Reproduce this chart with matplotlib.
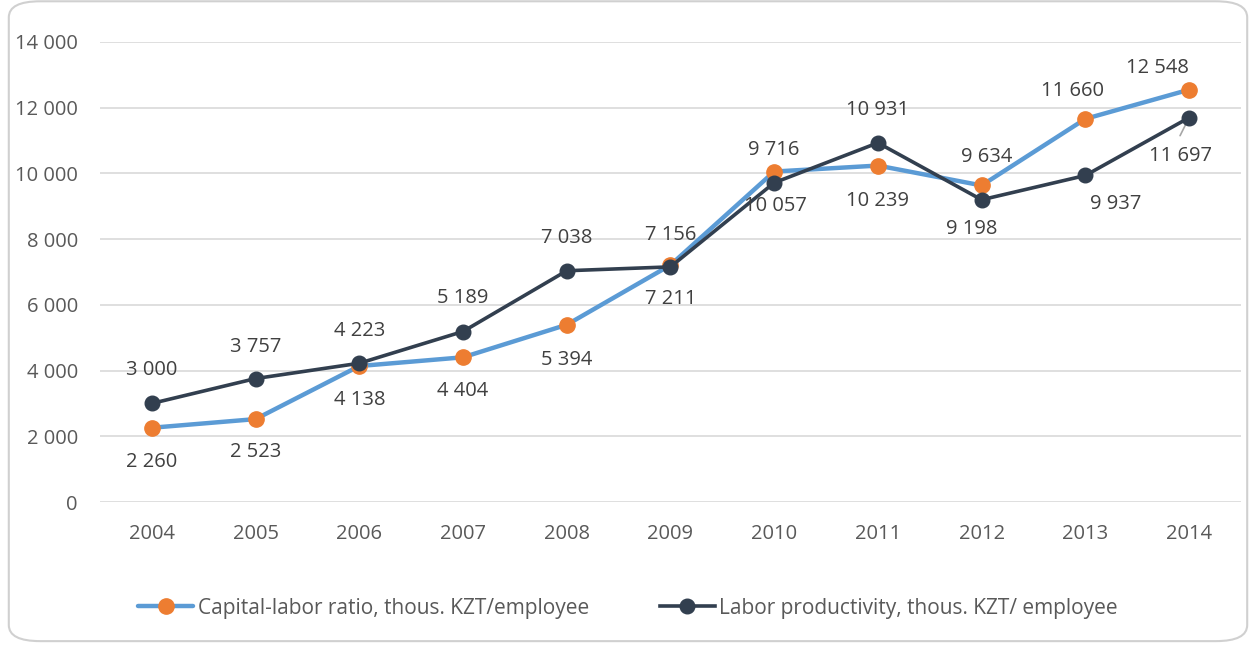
import matplotlib.pyplot as plt
from matplotlib.patches import FancyBboxPatch
import numpy as np

years = ['2004', '2005', '2006', '2007', '2008', '2009', '2010', '2011', '2012', '2013', '2014']
capital = [2260, 2523, 4138, 4404, 5394, 7211, 10057, 10239, 9634, 11660, 12548]
labor = [3000, 3757, 4223, 5189, 7038, 7156, 9716, 10931, 9198, 9937, 11697]
cap_name = 'Capital-labor ratio, thous. KZT/employee'
lab_name = 'Labor productivity, thous. KZT/ employee'

# label offsets in pixels (dx, dy), positive dy = up
cap_off = [(0, -34), (0, -33), (0, -34), (0, -34), (0, -35), (0, -34), (1, -34), (0, -35), (5, 28), (-13, 28), (-32, 22)]
lab_off = [(0, 33), (0, 32), (0, 32), (0, 34), (0, 33), (0, 32), (0, 33), (0, 33), (-10, -29), (30, -29), (-9, -38)]

plt.rcParams['font.family'] = ['Open Sans', 'DejaVu Sans']

fig = plt.figure(figsize=(12.56, 6.45), dpi=100)
fig.patches.append(FancyBboxPatch((0.007, 0.006), 0.986, 0.992, boxstyle='round,pad=0,rounding_size=0.025',
                                  transform=fig.transFigure, facecolor='none', edgecolor='#d0d0d0',
                                  lw=1.5, zorder=-1))
ax = fig.add_axes([0.0796, 0.2217, 0.9084, 0.7132])
ax.set_facecolor('none')

x = np.arange(len(years))
ax.plot(x, capital, color='#5b9bd5', lw=3.2, marker='o', ms=11, mfc='#ed7d31', mec='#ed7d31',
        label=cap_name, zorder=3, solid_capstyle='round')
ax.plot(x, labor, color='#323f4f', lw=2.6, marker='o', ms=10.5, mfc='#323f4f', mec='#323f4f',
        label=lab_name, zorder=4)

for i in range(len(x)):
    ax.annotate(f'{capital[i]:,}'.replace(',', ' '), (x[i], capital[i]), xytext=cap_off[i],
                textcoords='offset pixels', ha='center', va='center', fontsize=14.5, color='#404040',
                zorder=6)
    ax.annotate(f'{labor[i]:,}'.replace(',', ' '), (x[i], labor[i]), xytext=lab_off[i],
                textcoords='offset pixels', ha='center', va='center', fontsize=14.5, color='#404040',
                zorder=6)

# leader line for last labor label
ax.annotate('', (x[-1], labor[-1]), xytext=(-9, -18), textcoords='offset pixels',
            arrowprops=dict(arrowstyle='-', color='#a6a6a6', lw=1.2, shrinkA=0, shrinkB=1))

ax.set_xlim(-0.5, len(years) - 0.5)
ax.set_ylim(0, 14000)
yt = np.arange(0, 14001, 2000)
ax.set_yticks(yt)
ax.set_yticklabels([f'{v:,}'.replace(',', ' ') for v in yt])
ax.set_xticks(x)
ax.set_xticklabels(years)
ax.grid(axis='y', color='#d9d9d9', lw=1.2)
ax.set_axisbelow(True)
for s in ax.spines.values():
    s.set_visible(False)
ax.tick_params(length=0, labelsize=14.5, colors='#595959')
ax.tick_params(axis='y', pad=16)
ax.tick_params(axis='x', pad=16)

fig.legend(loc='center', bbox_to_anchor=(0.5, 0.057), ncol=2, frameon=False, fontsize=15,
           labelcolor='#595959', handlelength=2.65, handletextpad=0.2, columnspacing=3.4)

fig.savefig('out.png', dpi=100)
